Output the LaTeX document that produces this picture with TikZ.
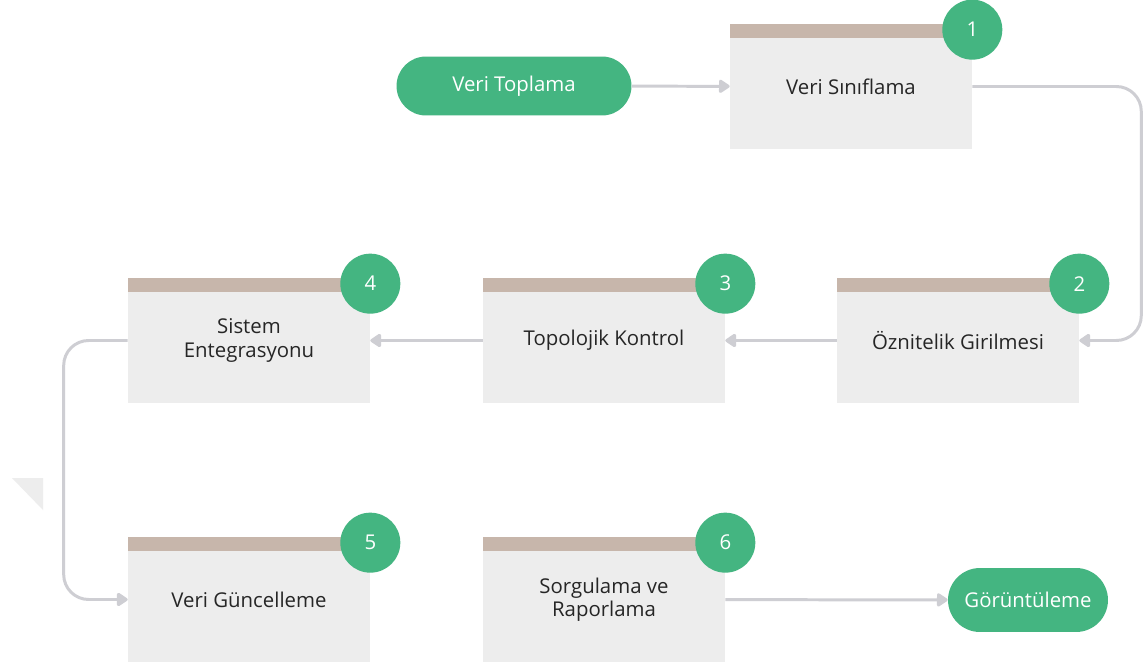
\documentclass[tikz,border=0pt]{standalone}
\usepackage{fontspec}
\setmainfont{Open Sans}
\usetikzlibrary{arrows.meta,positioning,calc}
\definecolor{flowgreen}{RGB}{68,181,129}
\definecolor{flowtan}{RGB}{199,182,171}
\definecolor{flowbox}{RGB}{237,237,237}
\definecolor{flowline}{RGB}{206,206,211}
\tikzset{
  pill/.style={fill=flowgreen, text=white, rounded corners=0.59cm, minimum height=1.18cm, font=\fontsize{11.6}{13}\selectfont},
  stepbox/.style={fill=flowbox, minimum width=4.84cm, minimum height=2.5cm, align=center, font=\fontsize{11.6}{13.2}\selectfont, text=black!85},
  badge/.style={circle, fill=flowgreen, text=white, minimum size=1.2cm, inner sep=0pt, font=\fontsize{11.6}{12}\selectfont},
  link/.style={draw=flowline, line width=1.7pt, -{Triangle[length=0.24cm, width=0.3cm, round]}}
}
\begin{document}
\begin{tikzpicture}[x=0.02cm, y=-0.02cm]
  \useasboundingbox[fill=white] (0,0) rectangle (1144,666);

  % faint mark on the left
  \fill[black!7] (12,478) -- (43,478) -- (43,510) -- cycle;

  % Start and end
  \node[pill, minimum width=4.7cm] (start) at (514,86) {Veri Toplama};
  \node[pill, minimum width=3.2cm, minimum height=1.28cm, rounded corners=0.64cm] (finish) at (1028,600) {Görüntüleme};

  % Steps
  \node[stepbox] (s1) at (851,86.5) {Veri Sınıflama};
  \node[stepbox] (s2) at (958,340.5) {Öznitelik Girilmesi};
  \node[stepbox] (s3) at (604,340.5) {Topolojik Kontrol};
  \node[stepbox] (s4) at (249,340.5) {Sistem\\Entegrasyonu};
  \node[stepbox] (s5) at (249,599.5) {Veri Güncelleme};
  \node[stepbox] (s6) at (604,599.5) {Sorgulama ve\\Raporlama};

  % Header bands and numbers
  \foreach \s/\n in {s1/1,s2/2,s3/3,s4/4,s5/5,s6/6} {
    \fill[flowtan] (\s.north west) rectangle ([yshift=-0.28cm]\s.north east);
    \node[badge] (b\n) at ([yshift=-0.12cm]\s.north east) {\n};
  }

  % Connectors
  \draw[link] (start) -- (s1);
  \draw[link, rounded corners=0.5cm] (s1.east) -| ([xshift=1.24cm]s2.east) -- (s2.east);
  \draw[link] (s2) -- (s3);
  \draw[link] (s3) -- (s4);
  \draw[link, rounded corners=0.5cm] (s4.west) -| ([xshift=-1.28cm]s5.west) -- (s5.west);
  \draw[link] (s6) -- (finish);
\end{tikzpicture}
\end{document}
